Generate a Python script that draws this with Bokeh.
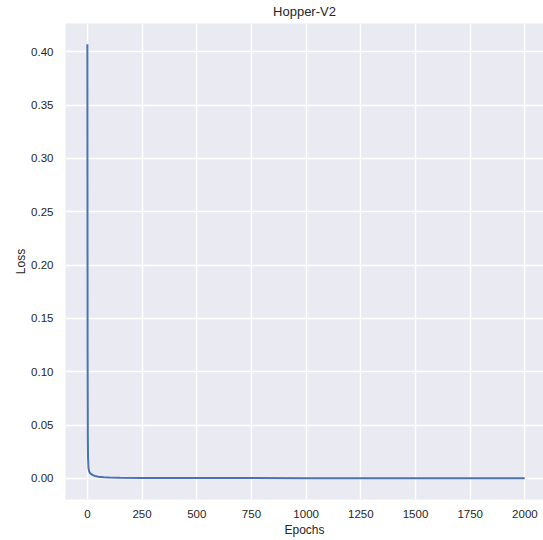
from bokeh.plotting import figure
from bokeh.models import FixedTicker, NumeralTickFormatter, Range1d
from bokeh.embed import file_html
from bokeh.resources import INLINE

# Training loss per epoch (sampled along the curve)
epochs = [0, 1, 2, 3, 5, 8, 12, 18, 25, 35, 50, 75, 100, 150, 250, 500, 1000, 1500, 1999]
loss = [0.407, 0.12, 0.04, 0.02, 0.010, 0.0068, 0.0052, 0.0040, 0.0031, 0.0023,
        0.0016, 0.0011, 0.0009, 0.0007, 0.00055, 0.0004, 0.0003, 0.00025, 0.0002]

x_ticks = [0, 250, 500, 750, 1000, 1250, 1500, 1750, 2000]
y_ticks = [0.0, 0.05, 0.10, 0.15, 0.20, 0.25, 0.30, 0.35, 0.40]

FONT = "Liberation Sans"
TEXT = "#262626"

p = figure(width=543, height=540, output_backend="svg", toolbar_location=None,
           title="Hopper-V2",
           x_range=Range1d(-100, 2085), y_range=Range1d(-0.0197, 0.4265),
           min_border_left=65, min_border_right=0, min_border_top=23, min_border_bottom=41)

p.background_fill_color = "#EAEAF2"
p.border_fill_color = "white"
p.outline_line_color = None

p.title.align = "center"
p.title.vertical_align = "top"
p.title.text_font = FONT
p.title.text_font_size = "13px"
p.title.text_font_style = "normal"
p.title.text_color = TEXT
p.title.standoff = 5

p.line(epochs, loss, line_color="#4C72B0", line_width=2)

for ax in (p.xaxis, p.yaxis):
    ax.axis_line_color = None
    ax.major_tick_line_color = None
    ax.minor_tick_line_color = None
    ax.major_tick_out = 0
    ax.major_tick_in = 0
    ax.minor_tick_out = 0
    ax.minor_tick_in = 0
    ax.major_label_text_font = FONT
    ax.major_label_text_font_size = "11.5px"
    ax.major_label_text_color = TEXT
    ax.axis_label_text_font = FONT
    ax.axis_label_text_font_size = "12px"
    ax.axis_label_text_font_style = "normal"
    ax.axis_label_text_color = TEXT

p.xaxis.ticker = FixedTicker(ticks=x_ticks)
p.yaxis.ticker = FixedTicker(ticks=y_ticks)
p.yaxis.formatter = NumeralTickFormatter(format="0.00")
p.xaxis.axis_label = "Epochs"
p.yaxis.axis_label = "Loss"
p.xaxis.major_label_standoff = 10
p.yaxis.major_label_standoff = 12
p.xaxis.axis_label_standoff = 2
p.yaxis.axis_label_standoff = 0

for g in (p.xgrid, p.ygrid):
    g.grid_line_color = "white"
    g.grid_line_width = 1.4
p.xgrid.ticker = FixedTicker(ticks=x_ticks)
p.ygrid.ticker = FixedTicker(ticks=y_ticks)

open("out.html", "w").write(file_html(p, INLINE))
